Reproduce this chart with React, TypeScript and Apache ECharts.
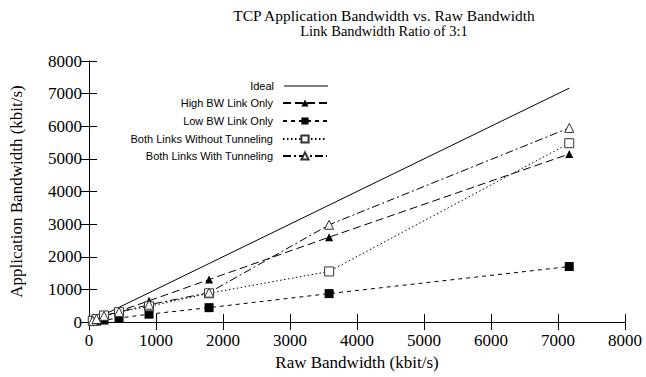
import React, { useEffect, useRef } from "react";
import * as echarts from "echarts";

const rawBw = [56, 112, 224, 448, 896, 1792, 3584, 7168];
const ideal = [56, 112, 224, 448, 896, 1792, 3584, 7168];
const highOnly = [40, 85, 170, 330, 650, 1300, 2600, 5150];
const lowOnly = [15, 30, 60, 120, 240, 440, 870, 1700];
const bothNoTunnel = [40, 90, 200, 300, 480, 880, 1550, 5480];
const bothTunnel = [40, 90, 190, 310, 530, 900, 2980, 5950];

const axisTicks = [0, 1000, 2000, 3000, 4000, 5000, 6000, 7000, 8000];

const serif = "Liberation Serif";
const sans = "Liberation Sans";

function pairs(ys: number[]) {
  return rawBw.map((x, i) => [x, ys[i]]);
}

export default function App() {
  const ref = useRef<HTMLDivElement>(null);
  useEffect(() => {
    document.body.style.margin = "0";
    if (!ref.current) return;
    const chart = echarts.init(ref.current, undefined, { renderer: "svg" });
    const axisCommon = {
      type: "value" as const,
      min: 0,
      max: 8000,
      interval: 1000,
      axisLine: { show: true, lineStyle: { color: "#000", width: 1 } },
      axisTick: { show: true, inside: true, length: 8, lineStyle: { color: "#000" } },
      splitLine: { show: false },
    };
    const legendNames = [
      "Ideal",
      "High BW Link Only",
      "Low BW Link Only",
      "Both Links Without Tunneling",
      "Both Links With Tunneling",
    ];
    const legendCenters = [86, 103, 121, 139, 156];
    const mk = (name: string, ys: number[], dash: any, symbol: string, size: number, filled: boolean) => ({
      name,
      type: "line",
      data: pairs(ys),
      symbol,
      symbolSize: size,
      showSymbol: symbol !== "none",
      lineStyle: { color: "#000", width: 1, type: dash },
      itemStyle: filled
        ? { color: "#000", borderColor: "#000", borderWidth: 0 }
        : { color: "#fff", borderColor: "#333", borderWidth: 1 },
      z: 3,
    });
    chart.setOption({
      animation: false,
      backgroundColor: "#fff",
      title: [
        {
          text: "TCP Application Bandwidth vs. Raw Bandwidth",
          left: 379,
          top: 2,
          textAlign: "center",
          textStyle: { fontFamily: serif, fontSize: 15.5, fontWeight: "normal", color: "#000" },
        },
        {
          text: "Link Bandwidth Ratio of 3:1",
          left: 379,
          top: 18,
          textAlign: "center",
          textStyle: { fontFamily: serif, fontSize: 14.5, fontWeight: "normal", color: "#000" },
        },
      ],
      legend: legendNames.map((n, i) => {
        const isIdeal = i === 0;
        const base: any = {
          data: isIdeal ? [{ name: n, icon: "rect" }] : [n],
          right: 318,
          top: legendCenters[i] - 7,
          height: 14,
          align: "right",
          orient: "vertical",
          itemWidth: 44,
          itemHeight: isIdeal ? 1 : 9,
          itemGap: 0,
          padding: 0,
          selectedMode: false,
          textStyle: { fontFamily: sans, fontSize: 11, color: "#000", padding: [0, 5, 0, 0], lineHeight: 14 },
        };
        if (isIdeal) base.itemStyle = { color: "#000" };
        return base;
      }),
      grid: { left: 89, right: 21, top: 61, bottom: 55, containLabel: false, outerBoundsMode: "none" },
      xAxis: [
        {
          ...axisCommon,
          position: "bottom",
          name: "Raw Bandwidth (kbit/s)",
          nameLocation: "middle",
          nameGap: 32,
          nameTextStyle: { fontFamily: serif, fontSize: 17, color: "#000" },
          axisLabel: {
            fontFamily: serif,
            fontSize: 17,
            color: "#000",
            margin: 10,
            formatter: (v: number) => (axisTicks.includes(v) ? String(v) : ""),
          },
        },
        {
          ...axisCommon,
          position: "top",
          axisLabel: { show: false },
        },
      ],
      yAxis: [
        {
          ...axisCommon,
          position: "left",
          name: "Application Bandwidth (kbit/s)",
          nameLocation: "middle",
          nameGap: 64,
          nameTextStyle: { fontFamily: serif, fontSize: 17, color: "#000" },
          axisLabel: {
            fontFamily: serif,
            fontSize: 17,
            color: "#000",
            margin: 7,
            formatter: (v: number) => String(v),
          },
        },
        {
          ...axisCommon,
          position: "right",
          axisLabel: { show: false },
        },
      ],
      series: [
        mk("Ideal", ideal, "solid", "none", 0, true),
        mk("High BW Link Only", highOnly, [8, 4], "triangle", 8, true),
        mk("Low BW Link Only", lowOnly, [4, 4], "rect", 9, true),
        mk("Both Links Without Tunneling", bothNoTunnel, [1.5, 2.5], "rect", 9, false),
        mk("Both Links With Tunneling", bothTunnel, [8, 3, 2, 3], "triangle", 9, false),
      ],
    });
    return () => chart.dispose();
  }, []);
  return <div ref={ref} style={{ width: 646, height: 377 }} />;
}

const _unused = React;
